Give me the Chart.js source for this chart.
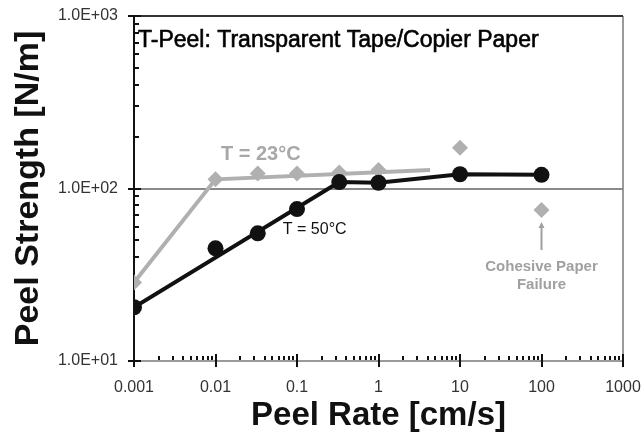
<!DOCTYPE html>
<html>
<head>
<meta charset="utf-8">
<title>T-Peel: Transparent Tape/Copier Paper</title>
<script src="https://cdn.jsdelivr.net/npm/chart.js@4.4.1/dist/chart.umd.min.js"></script>
<style>
  html, body { margin: 0; padding: 0; background: #fff; }
  #wrap { width: 642px; height: 432px; position: relative; }
</style>
</head>
<body>
<div id="wrap"><canvas id="peel"></canvas></div>
<script>
// peel rate [cm/s] vs peel strength [N/m]
const rate50    = [0.001, 0.01, 0.033, 0.1, 0.33, 1, 10, 100];
const peel50    = [20.5, 45, 55, 76, 109, 108, 121, 120];
const fitRate50 = [0.001, 0.33, 1, 10, 100];
const fitPeel50 = [20.5, 109, 108, 121, 120];

const rate23    = [0.001, 0.01, 0.033, 0.1, 0.33, 1];
const peel23    = [28.5, 113, 122, 122, 124, 128];
const fitRate23 = [0.001, 0.01, 4.3];
const fitPeel23 = [28.5, 113, 128];

// 23°C runs where the paper tore instead of peeling
const failRate = [10, 100];
const failPeel = [172, 75];

const xTickValues = [0.001, 0.01, 0.1, 1, 10, 100, 1000];
const xTickLabels = ["0.001", "0.01", "0.1", "1", "10", "100", "1000"];
const yTickValues = [10, 100, 1000];
const yTickLabels = ["1.0E+01", "1.0E+02", "1.0E+03"];

// annotation anchors, in data units
const note23   = { x: 0.036, y: 157 };
const note50   = { x: 0.067, y: 57.7 };
const arrowFail = { x: 100, from: 44, to: 64 };
const noteFail = { x: 100, y1: 35.3, y2: 27.7 };

const FONT = '"Liberation Sans", Arial, sans-serif';
const GRAY = "#b0b0b0";
const INK  = "#111";

const toPts = (xs, ys) => xs.map((x, i) => ({ x: x, y: ys[i] }));

// decade ticks plus the 2..9 minors in between
function logTicks(majors) {
  const out = [];
  majors.forEach(function (m, i) {
    out.push({ value: m, major: true });
    if (i < majors.length - 1) {
      for (let k = 2; k <= 9; k++) out.push({ value: +(m * k).toPrecision(6), major: false });
    }
  });
  return out;
}

const tickMarks = {
  id: "tickMarks",
  beforeDatasetsDraw(chart) {
    const ctx = chart.ctx, xs = chart.scales.x, ys = chart.scales.y;
    ctx.save();
    ctx.strokeStyle = INK;
    ctx.lineWidth = 2;
    ctx.beginPath();
    const y0 = xs.top;
    xs.ticks.forEach(function (t) {
      const px = Math.round(xs.getPixelForValue(t.value));
      if (t.major) { ctx.moveTo(px, y0 - 7); ctx.lineTo(px, y0 + 6); }
      else { ctx.moveTo(px, y0 - 5); ctx.lineTo(px, y0 - 1); }
    });
    const x0 = ys.right;
    ys.ticks.forEach(function (t) {
      const py = Math.round(ys.getPixelForValue(t.value));
      if (t.major) { ctx.moveTo(x0 - 6, py); ctx.lineTo(x0 + 7, py); }
      else { ctx.moveTo(x0 + 1, py); ctx.lineTo(x0 + 5, py); }
    });
    ctx.stroke();
    ctx.restore();
  }
};

const notes = {
  id: "notes",
  afterDatasetsDraw(chart) {
    const ctx = chart.ctx, xs = chart.scales.x, ys = chart.scales.y, area = chart.chartArea;
    ctx.save();
    ctx.textBaseline = "middle";

    // panel heading, slightly heavier than the regular face
    ctx.fillStyle = "#000";
    ctx.strokeStyle = "#000";
    ctx.lineWidth = 0.6;
    ctx.font = "23px " + FONT;
    ctx.textAlign = "left";
    ctx.fillText("T-Peel: Transparent Tape/Copier Paper", area.left + 4, area.top + 25);
    ctx.strokeText("T-Peel: Transparent Tape/Copier Paper", area.left + 4, area.top + 25);

    ctx.fillStyle = "#a8a8a8";
    ctx.font = "bold 20px " + FONT;
    ctx.textAlign = "center";
    ctx.fillText("T = 23°C", xs.getPixelForValue(note23.x), ys.getPixelForValue(note23.y));

    ctx.fillStyle = INK;
    ctx.font = "16px " + FONT;
    ctx.textAlign = "left";
    ctx.fillText("T = 50°C", xs.getPixelForValue(note50.x), ys.getPixelForValue(note50.y));

    // arrow pointing up at the torn-paper point
    const ax = xs.getPixelForValue(arrowFail.x);
    const ya = ys.getPixelForValue(arrowFail.from), yb = ys.getPixelForValue(arrowFail.to);
    ctx.strokeStyle = "#a0a0a0";
    ctx.fillStyle = "#a0a0a0";
    ctx.lineWidth = 2;
    ctx.beginPath();
    ctx.moveTo(ax, ya);
    ctx.lineTo(ax, yb + 4);
    ctx.stroke();
    ctx.beginPath();
    ctx.moveTo(ax, yb);
    ctx.lineTo(ax - 3, yb + 6);
    ctx.lineTo(ax + 3, yb + 6);
    ctx.closePath();
    ctx.fill();

    ctx.font = "bold 15px " + FONT;
    ctx.textAlign = "center";
    ctx.fillText("Cohesive Paper", ax, ys.getPixelForValue(noteFail.y1));
    ctx.fillText("Failure", ax, ys.getPixelForValue(noteFail.y2));
    ctx.restore();
  }
};

new Chart(document.getElementById("peel"), {
  type: "scatter",
  data: {
    datasets: [
      {
        label: "T = 50°C",
        data: toPts(rate50, peel50),
        showLine: false,
        pointStyle: "circle",
        pointRadius: 8,
        backgroundColor: INK,
        borderColor: INK,
        borderWidth: 0
      },
      {
        label: "T = 50°C fit",
        data: toPts(fitRate50, fitPeel50),
        showLine: true,
        pointRadius: 0,
        borderColor: INK,
        borderWidth: 4
      },
      {
        label: "paper failure",
        data: toPts(failRate, failPeel),
        showLine: false,
        pointStyle: "rectRot",
        pointRadius: 8,
        backgroundColor: GRAY,
        borderColor: GRAY,
        borderWidth: 0
      },
      {
        label: "T = 23°C",
        data: toPts(rate23, peel23),
        showLine: false,
        pointStyle: "rectRot",
        pointRadius: 8,
        backgroundColor: GRAY,
        borderColor: GRAY,
        borderWidth: 0
      },
      {
        label: "T = 23°C fit",
        data: toPts(fitRate23, fitPeel23),
        showLine: true,
        pointRadius: 0,
        borderColor: GRAY,
        borderWidth: 4
      }
    ]
  },
  options: {
    responsive: true,
    maintainAspectRatio: false,
    animation: false,
    layout: { padding: { top: 16, right: 19, left: 0, bottom: 0 } },
    plugins: { legend: { display: false }, tooltip: { enabled: false } },
    scales: {
      x: {
        type: "logarithmic",
        min: 0.001,
        max: 1000,
        afterBuildTicks: (s) => { s.ticks = logTicks(xTickValues); },
        afterFit: (s) => { s.height = 71; s.paddingLeft = 0; s.paddingRight = 0; },
        border: { display: true, color: "#9a9a9a", width: 2 },
        grid: {
          drawTicks: false,
          lineWidth: 2,
          color: (c) => (c.tick && c.tick.value === 1000) ? "#9a9a9a" : "rgba(0,0,0,0)"
        },
        ticks: {
          autoSkip: false,
          maxRotation: 0,
          padding: 17,
          color: "#333",
          font: { family: FONT, size: 16 },
          callback: (v) => { const i = xTickValues.indexOf(v); return i >= 0 ? xTickLabels[i] : ""; }
        },
        title: {
          display: true,
          text: "Peel Rate [cm/s]",
          color: INK,
          font: { family: FONT, size: 33, weight: "bold", lineHeight: 1.0 },
          padding: { top: 0, bottom: 0 }
        }
      },
      y: {
        type: "logarithmic",
        min: 10,
        max: 1000,
        afterBuildTicks: (s) => { s.ticks = logTicks(yTickValues); },
        afterFit: (s) => { s.width = 134; s.paddingTop = 0; s.paddingBottom = 0; },
        border: { display: true, color: INK, width: 2 },
        grid: {
          drawTicks: false,
          lineWidth: 2,
          color: (c) => {
            if (!c.tick) return "rgba(0,0,0,0)";
            if (c.tick.value === 1000) return "#333";
            if (c.tick.value === 100) return "#8a8a8a";
            return "rgba(0,0,0,0)";
          }
        },
        ticks: {
          autoSkip: false,
          padding: 16,
          color: "#333",
          font: { family: FONT, size: 16 },
          callback: (v) => { const i = yTickValues.indexOf(v); return i >= 0 ? yTickLabels[i] : ""; }
        },
        title: {
          display: true,
          text: "Peel Strength [N/m]",
          color: INK,
          font: { family: FONT, size: 34, weight: "bold", lineHeight: 1.2 },
          padding: { top: 8, bottom: 0 }
        }
      }
    }
  },
  plugins: [tickMarks, notes]
});
</script>
</body>
</html>
